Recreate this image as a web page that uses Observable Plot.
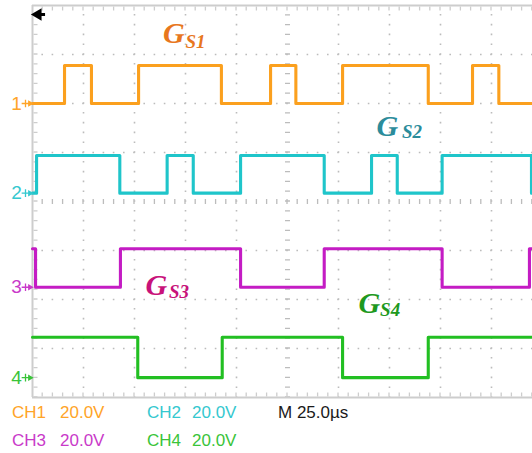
<!DOCTYPE html>
<html><head><meta charset="utf-8">
<script src="https://cdn.jsdelivr.net/npm/d3@7"></script>
<script src="https://cdn.jsdelivr.net/npm/@observablehq/plot@0.6"></script>
<style>
html,body{margin:0;padding:0;background:#fff;overflow:hidden}
#wrap{position:relative;width:532px;height:453px;overflow:hidden}
#info span{position:absolute;font-family:"Liberation Sans",Arial,sans-serif;font-size:17px;line-height:17px;white-space:pre}
</style></head><body>
<div id="wrap"><div id="chart"></div><div id="info"></div></div>
<script>
// ---- data (time in µs, level in V on screen) ----
const channels = ["CH1", "CH2", "CH3", "CH4"];
const channelNumbers = ["1", "2", "3", "4"];
const voltsPerDiv = ["20.0V", "20.0V", "20.0V", "20.0V"];
const timebase = "M 25.0µs";
const traceColors = ["#FBA01E", "#1FC5CA", "#C41CC4", "#22BF22"];
const textColors = ["#FFA428", "#35C8CF", "#C93AC9", "#3AC43A"];
const lowLevels = [40, 3.4, -35, -71.9];
const highLevels = [55.5, 18.8, -19.3, -55.4];
const startStates = [0, 0, 1, 1];
const edgesCH1 = [15.7, 28.9, 52.0, 92.6, 116.7, 129.1, 152.0, 194.0, 215.7, 228.6];
const edgesCH2 = [2.0, 42.8, 66.0, 78.8, 102.0, 143.0, 166.2, 178.8, 200.8, 244.6];
const edgesCH3 = [1.5, 43.1, 102.0, 143.0, 200.8, 243.6];
const edgesCH4 = [51.6, 93.0, 152.0, 194.0];
const timeEnd = 245.1;

// grid (25 µs/div, 20 V/div)
const gridTimes = [25, 50, 75, 100, 150, 175, 200, 225];
const centerTime = 125;
const gridVolts = [-60, -40, -20, 20, 40, 60];

// annotations
const labelMain = ["G", "G", "G", "G"];
const labelSub = ["S1", "S2", "S3", "S4"];
const labelColors = ["#E8771E", "#2B8C9B", "#C8127A", "#1E991E"];
const labelMainT = [64.0, 168.6, 55.4, 159.8];
const labelMainV = [68.8, 30.6, -34.1, -41.4];
const labelSubT = [75.0, 181.1, 66.9, 170.4];
const labelSubV = [65.1, 28.4, -36.9, -44.3];
const triggerTime = 0, triggerLevel = 80;

// ---- build traces ----
const allEdges = [edgesCH1, edgesCH2, edgesCH3, edgesCH4];
const traces = channels.map((ch, i) => {
  let s = startStates[i];
  const lv = st => st ? highLevels[i] : lowLevels[i];
  const rows = [{t: 0, v: lv(s)}];
  for (const e of allEdges[i]) { s = 1 - s; rows.push({t: e, v: lv(s)}); }
  rows.push({t: timeEnd, v: lv(s)});
  return rows;
});

const grid = "#bcbcbc", border = "#cdcdcd";
const marks = [
  Plot.ruleX(gridTimes, {stroke: grid, strokeWidth: 1.6, strokeDasharray: "1.6 8.2", strokeDashoffset: 0.8}),
  Plot.ruleY(gridVolts, {stroke: grid, strokeWidth: 1.6, strokeDasharray: "1.6 8.6", strokeDashoffset: 0.8}),
  Plot.ruleX([centerTime], {stroke: grid, strokeWidth: 5, strokeDasharray: "1.3 8.5", strokeDashoffset: 0.65}),
  Plot.ruleY([0], {stroke: grid, strokeWidth: 5, strokeDasharray: "1.3 8.9", strokeDashoffset: 0.65}),
  Plot.ruleX([0], {stroke: border, strokeWidth: 2}),
  Plot.ruleX([0], {stroke: border, strokeWidth: 4, dx: 3, strokeDasharray: "1.3 8.5", strokeDashoffset: 0.65}),
  Plot.ruleY([80], {stroke: border, strokeWidth: 2}),
  Plot.ruleY([80], {stroke: border, strokeWidth: 4, dy: 3, strokeDasharray: "1.3 8.9", strokeDashoffset: 0.65}),
  Plot.ruleY([-80], {stroke: border, strokeWidth: 2}),
  Plot.ruleY([-80], {stroke: border, strokeWidth: 4, dy: -3, strokeDasharray: "1.3 8.9", strokeDashoffset: 0.65}),
];
traces.forEach((rows, i) => {
  marks.push(Plot.line(rows, {x: "t", y: "v", curve: "step-after", stroke: traceColors[i], strokeWidth: 3.1}));
  marks.push(Plot.text([channelNumbers[i]], {x: 0, y: lowLevels[i], text: d => d, dx: -16, fontSize: 19, fill: textColors[i], fontFamily: "Liberation Sans, Arial, sans-serif"}));
  marks.push(Plot.dot([0], {x: 0, y: lowLevels[i], dx: -7, symbol: "plus", r: 2.6, stroke: textColors[i], strokeWidth: 1.3}));
  marks.push(Plot.dot([0], {x: 0, y: lowLevels[i], dx: -2.5, symbol: "triangle", rotate: 90, r: 2.4, fill: textColors[i], stroke: "none"}));
});
labelMain.forEach((g, i) => {
  const font = {fontFamily: "Liberation Serif, Times New Roman, serif", fontWeight: "bold", fontStyle: "italic", textAnchor: "start", lineAnchor: "middle", fill: labelColors[i]};
  marks.push(Plot.text([g], {x: labelMainT[i], y: labelMainV[i], text: d => d, fontSize: 30, ...font}));
  marks.push(Plot.text([labelSub[i]], {x: labelSubT[i], y: labelSubV[i], text: d => d, fontSize: 19, ...font}));
});
// trigger marker (arrow at top-left)
marks.push(Plot.ruleY([triggerLevel], {x1: triggerTime + 1.5, x2: triggerTime + 6.4, dy: 9, stroke: "#000", strokeWidth: 3}));
marks.push(Plot.dot([triggerTime], {x: d => d, y: triggerLevel, dx: 5.5, dy: 9, symbol: "triangle", rotate: -90, r: 4.6, fill: "#000", stroke: "none"}));

const chart = Plot.plot({
  width: 532, height: 400,
  marginTop: 5, marginBottom: 3, marginLeft: 32, marginRight: 0,
  x: {domain: [0, timeEnd], axis: null},
  y: {domain: [-80, 80], axis: null},
  style: {background: "#fff", overflow: "visible"},
  marks
});
document.getElementById("chart").appendChild(chart);

// ---- channel settings below the screen ----
const info = document.getElementById("info");
const rowsTop = [403.6, 432];
const cols = [[12, 60], [147, 192]];
channels.forEach((ch, i) => {
  const r = Math.floor(i / 2), c = i % 2;
  for (const [txt, left] of [[ch, cols[c][0]], [voltsPerDiv[i], cols[c][1]]]) {
    const s = document.createElement("span");
    s.textContent = txt;
    s.style.left = left + "px"; s.style.top = rowsTop[r] + "px"; s.style.color = textColors[i];
    info.appendChild(s);
  }
});
const tb = document.createElement("span");
tb.textContent = timebase;
tb.style.left = "278px"; tb.style.top = rowsTop[0] + "px"; tb.style.color = "#1a1a1a";
info.appendChild(tb);
</script>
</body></html>
